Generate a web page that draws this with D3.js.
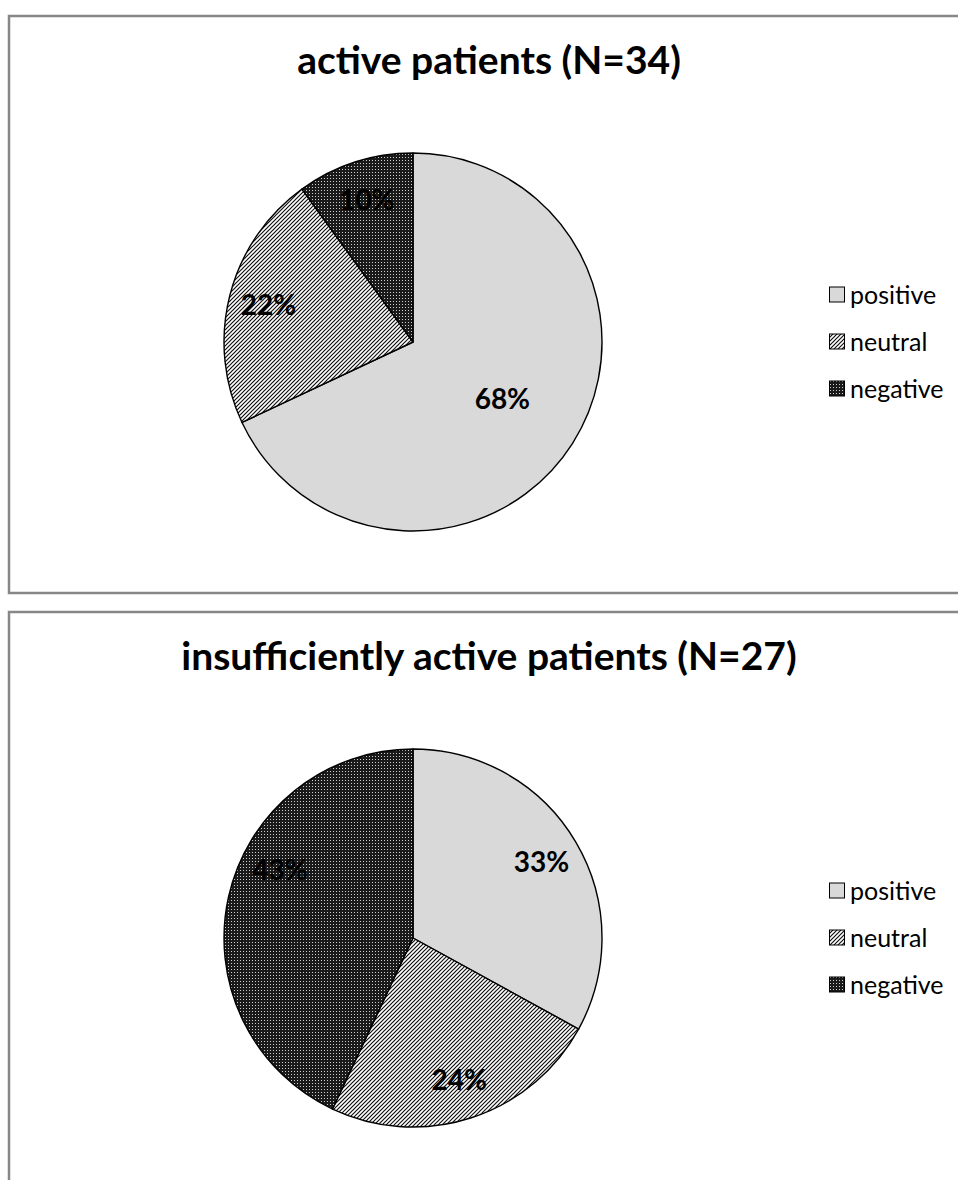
<!DOCTYPE html>
<html>
<head>
<meta charset="utf-8">
<script src="https://cdn.jsdelivr.net/npm/d3@7"></script>
<style>
  html, body { margin: 0; padding: 0; background: #fff; }
  svg { display: block; }
</style>
</head>
<body>
<svg id="chart" width="958" height="1180"></svg>
<script>
// Survey answers by patient activity group
const categories = ["positive", "neutral", "negative"];
const activeValues = [68, 22, 10];
const insufficientValues = [33, 24, 43];
const chartTitles = ["active patients (N=34)", "insufficiently active patients (N=27)"];

// Layout
const W = 958, H = 1180;
const panels = [
  { top: 16, height: 577, values: activeValues, title: chartTitles[0] },
  { top: 612, height: 600, values: insufficientValues, title: chartTitles[1] }
];
const panelLeft = 9;
const radius = 189;
const pieCx = 413;
const pieOffsetY = 326;     // pie centre below the panel top
const titleOffsetY = 58;    // title baseline below the panel top
const titleCx = 489;
const legendX = 829;
const legendOffsetY = 279;  // centre of the first legend row below the panel top
const legendStep = 47;
const font = "Lato, 'Open Sans', sans-serif";

const svg = d3.select("#chart");
const defs = svg.append("defs");

// Fills: light grey, diagonal hatching, dark dotted grid
const hatch = defs.append("pattern")
  .attr("id", "hatch").attr("patternUnits", "userSpaceOnUse")
  .attr("width", 4).attr("height", 4);
hatch.append("rect").attr("width", 4).attr("height", 4).attr("fill", "#fff");
hatch.append("path")
  .attr("d", "M-1,1 L1,-1 M0,4 L4,0 M3,5 L5,3")
  .attr("stroke", "#111").attr("stroke-width", 1.2);

const dots = defs.append("pattern")
  .attr("id", "dots").attr("patternUnits", "userSpaceOnUse")
  .attr("width", 3).attr("height", 3);
dots.append("rect").attr("width", 3).attr("height", 3).attr("fill", "#1a1a1a");
dots.append("rect").attr("x", 1).attr("y", 1).attr("width", 1).attr("height", 1).attr("fill", "#cfcfcf");

const fillScale = d3.scaleOrdinal()
  .domain(categories)
  .range(["#d9d9d9", "url(#hatch)", "url(#dots)"]);

const pie = d3.pie().sort(null).value(d => d.value);
const arc = d3.arc().innerRadius(0).outerRadius(radius);

// Label placement: large slices keep their label nearer the centre
function labelPoint(d) {
  const share = d.data.value / 100;
  const r = radius * (share > 0.5 ? 0.56 : 0.79);
  let a = (d.startAngle + d.endAngle) / 2;
  if (share > 0.4 && share <= 0.5) a += 0.25;
  return [Math.sin(a) * r, -Math.cos(a) * r];
}

panels.forEach(p => {
  const g = svg.append("g");

  // panel frame
  g.append("rect")
    .attr("x", panelLeft).attr("y", p.top)
    .attr("width", W + 40).attr("height", p.height)
    .attr("fill", "#fff")
    .attr("stroke", "#878787").attr("stroke-width", 2.5);

  g.append("text")
    .attr("x", titleCx).attr("y", p.top + titleOffsetY)
    .attr("text-anchor", "middle")
    .attr("font-family", font).attr("font-weight", "bold")
    .attr("font-size", 39).attr("fill", "#000")
    .text(p.title);

  const data = categories.map((c, i) => ({ category: c, value: p.values[i] }));
  const arcs = pie(data);

  const pg = g.append("g").attr("transform", `translate(${pieCx},${p.top + pieOffsetY})`);
  pg.selectAll("path.slice").data(arcs).join("path")
    .attr("class", "slice")
    .attr("d", arc)
    .attr("fill", d => fillScale(d.data.category))
    .attr("stroke", "#000").attr("stroke-width", 1.4)
    .attr("stroke-linejoin", "round");

  pg.selectAll("text.lbl").data(arcs).join("text")
    .attr("class", "lbl")
    .attr("transform", d => `translate(${labelPoint(d)})`)
    .attr("text-anchor", "middle").attr("dy", "0.36em")
    .attr("font-family", font).attr("font-weight", "bold")
    .attr("font-size", 28).attr("fill", "#000")
    .text(d => d.data.value + "%");

  // legend
  const lg = g.selectAll("g.leg").data(categories).join("g")
    .attr("class", "leg")
    .attr("transform", (d, i) => `translate(${legendX},${p.top + legendOffsetY + i * legendStep})`);
  lg.append("rect")
    .attr("x", 0.5).attr("y", -8).attr("width", 15).attr("height", 15)
    .attr("fill", d => fillScale(d))
    .attr("stroke", "#000").attr("stroke-width", 1);
  lg.append("text")
    .attr("x", 21).attr("y", 0).attr("dy", "0.36em")
    .attr("font-family", font).attr("font-size", 25).attr("fill", "#000")
    .text(d => d);
});
</script>
</body>
</html>
